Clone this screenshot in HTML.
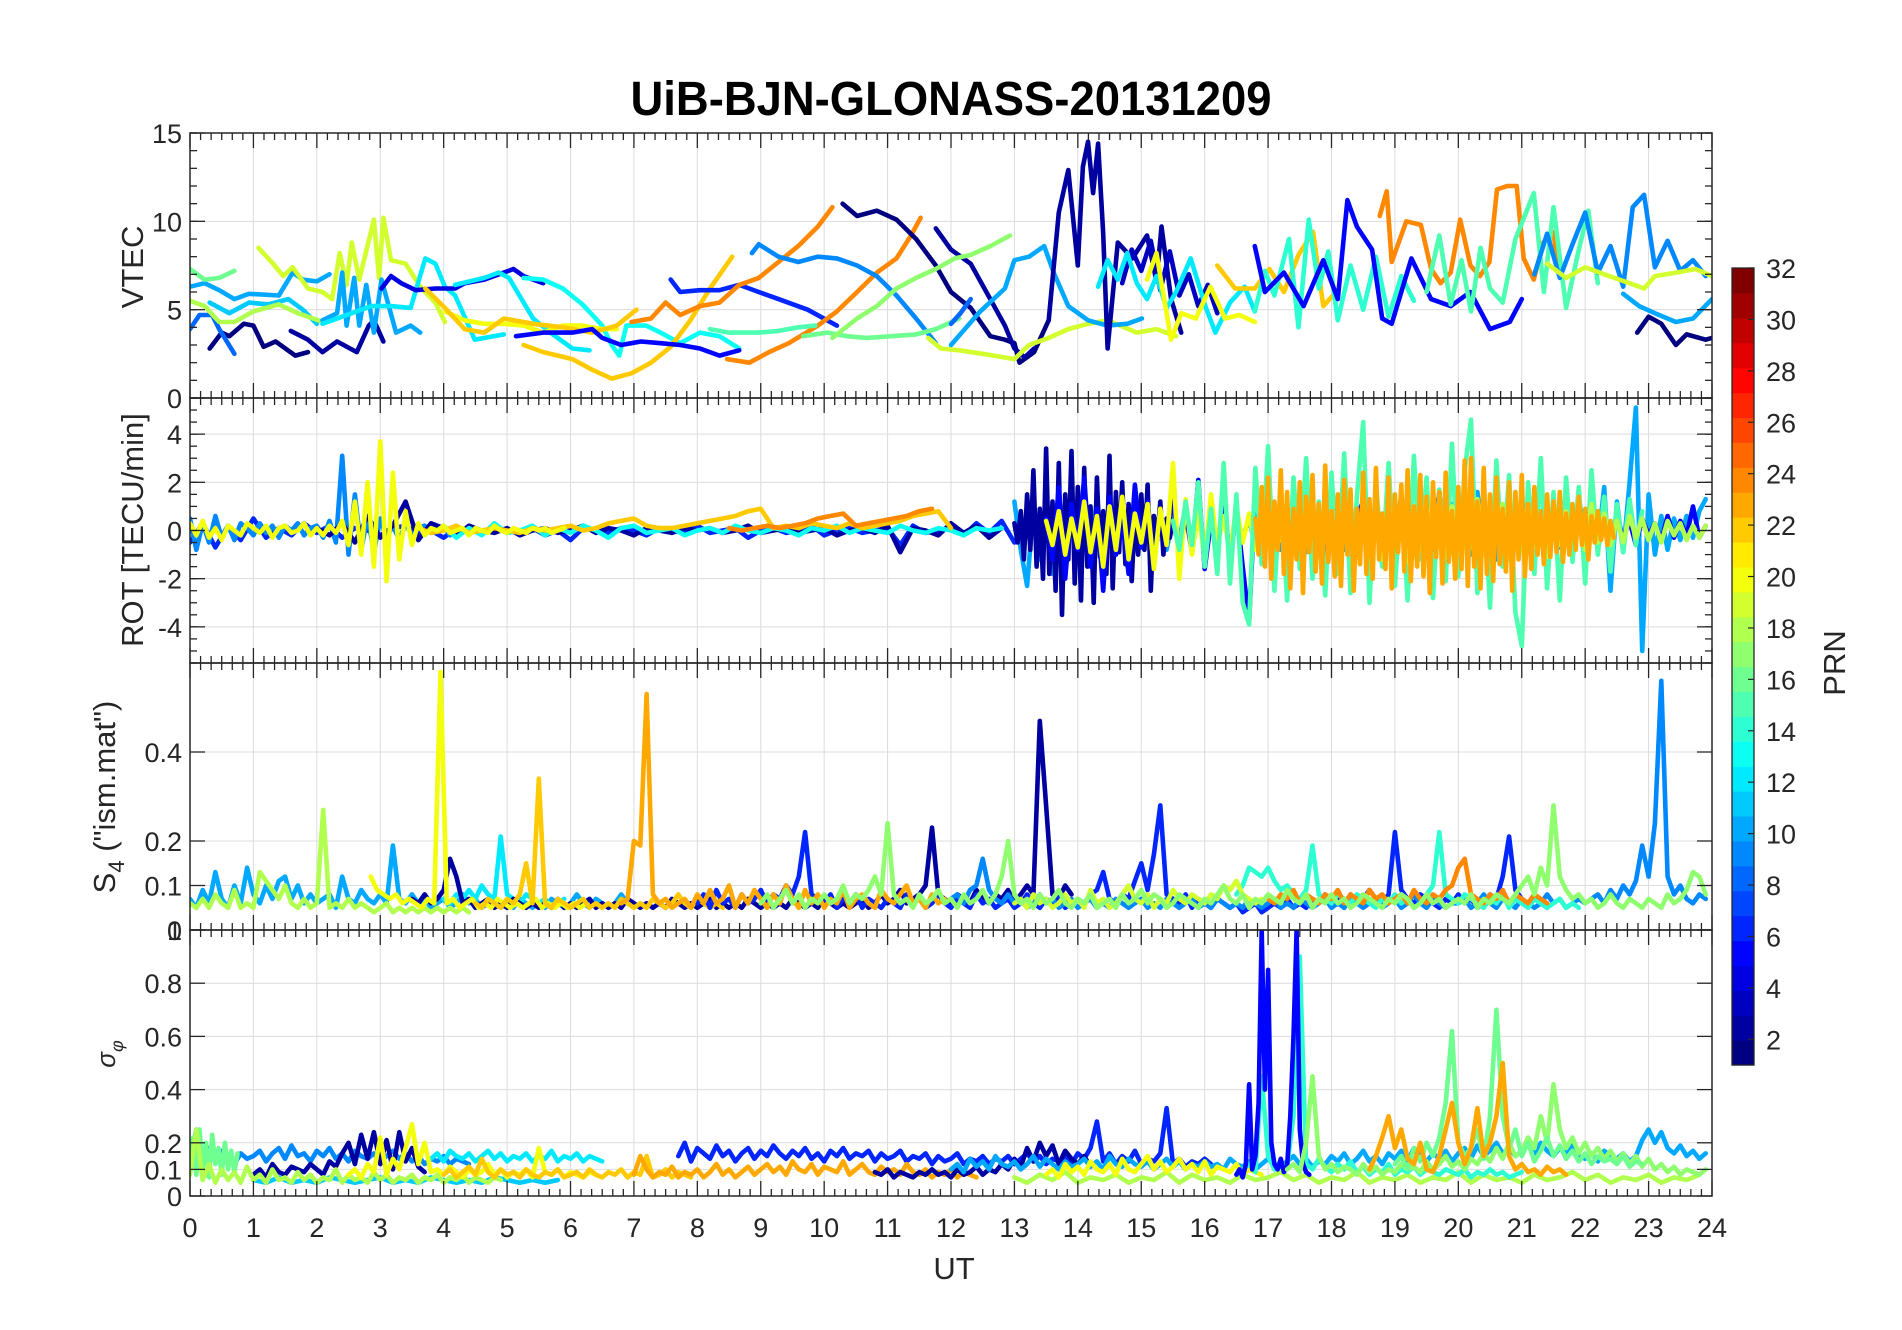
<!DOCTYPE html>
<html><head><meta charset="utf-8"><style>
html,body{margin:0;padding:0;background:#fff;}
svg{display:block;font-family:"Liberation Sans",Arial,sans-serif;}
</style></head><body>
<svg id="fig" width="1902" height="1330" viewBox="0 0 1902 1330" xmlns="http://www.w3.org/2000/svg">
<rect x="0" y="0" width="1902" height="1330" fill="#fff"/>
<text x="951" y="115" text-anchor="middle" font-size="48" font-weight="bold" fill="#000" textLength="641" lengthAdjust="spacingAndGlyphs">UiB-BJN-GLONASS-20131209</text>
<g id="plots"></g>
<text x="954" y="1279" text-anchor="middle" font-size="31" fill="#262626">UT</text>
<text transform="translate(133,267) rotate(-90)" text-anchor="middle" font-size="31" fill="#262626" dy="10">VTEC</text>
<text transform="translate(143,530) rotate(-90)" text-anchor="middle" font-size="31" fill="#262626">ROT [TECU/min]</text>
<text transform="translate(115,797) rotate(-90)" text-anchor="middle" font-size="31" fill="#262626">S<tspan font-size="22" dy="9">4</tspan><tspan dy="-9"> ("ism.mat")</tspan></text>
<text transform="translate(115,1054) rotate(-90)" text-anchor="middle" font-size="26" fill="#262626"><tspan font-style="italic">σ</tspan><tspan font-size="18" dy="8" font-style="italic">φ</tspan></text>
<g id="cbar"></g>
<text transform="translate(1845,663) rotate(-90)" text-anchor="middle" font-size="31" fill="#262626">PRN</text>
</svg>
<script>
// ===== axis layout =====
const XL = 190, XR = 1712, T0 = 0, T1 = 24;
const hourTicks = [0,1,2,3,4,5,6,7,8,9,10,11,12,13,14,15,16,17,18,19,20,21,22,23,24];
const vtecTicks = [0,5,10,15];
const rotTicks = [-4,-2,0,2,4];
const s4Ticks = [0,0.1,0.2,0.4];
const s4TickLabels = ["0","0.1","0.2","0.4"];
const spTicks = [0,0.1,0.2,0.4,0.6,0.8,1];
const spTickLabels = ["0","0.1","0.2","0.4","0.6","0.8","1"];
const prnTicks = [2,4,6,8,10,12,14,16,18,20,22,24,26,28,30,32];

// ===== VTEC tracks: PRN, hours, values =====
const vtecTracks = [
 {prn:1, t:[0.31,0.5,0.62,0.85,1.0,1.16,1.35,1.66,1.86], v:[2.8,3.7,3.5,4.2,4.1,2.9,3.2,2.4,2.6]},
 {prn:2, t:[1.59,1.86,2.09,2.32,2.63,2.82,2.9,3.05], v:[3.8,3.3,2.6,3.2,2.6,4.1,4.4,3.2]},
 {prn:8, t:[0,0.15,0.35,0.46,0.7], v:[3.9,4.7,4.7,3.9,2.5]},
 {prn:10, t:[0,0.23,0.46,0.7,0.93,1.4,1.62,1.78,2.0,2.2], v:[6.3,6.5,6.1,5.6,5.9,5.8,7.1,6.7,6.6,7.0]},
 {prn:11, t:[0.31,0.62,0.93,1.24,1.55,1.78,2.0], v:[5.4,4.8,5.4,5.3,5.6,5.0,4.2]},
 {prn:16, t:[0,0.23,0.46,0.7], v:[7.3,6.7,6.8,7.2]},
 {prn:18, t:[0,0.23,0.46,0.7,1.0,1.4,1.7,2.1], v:[5.5,5.2,4.3,4.3,4.9,5.3,4.8,4.3]},
 {prn:19, t:[1.08,1.31,1.47,1.62,1.86,2.09,2.24,2.36,2.47,2.55,2.67,2.9,2.98,3.05,3.17,3.4,3.63,3.87,4.02], v:[8.5,7.6,6.9,7.4,6.2,6.0,5.6,8.2,6.4,8.8,6.7,10.1,6.8,10.2,7.8,7.6,6.3,5.4,4.3]},
 {prn:10, t:[2.09,2.32,2.4,2.47,2.59,2.67,2.78,2.9,3.02,3.25,3.48,3.63], v:[4.4,4.8,7.1,4.1,6.8,4.1,6.4,3.7,6.7,3.7,4.1,3.7]},
 {prn:12, t:[2.09,2.55,2.86,3.17,3.48,3.71,3.87,4.02,4.18,4.33,4.49,4.95], v:[4.2,4.8,5.2,5.2,5.1,7.9,7.6,6.3,5.8,4.6,3.3,3.6]},
 {prn:4, t:[3.02,3.17,3.33,3.56,3.87,4.18,4.33,4.64,4.95,5.1,5.26,5.57], v:[6.2,6.9,6.5,6.1,6.2,6.2,6.5,6.7,7.1,7.3,6.9,6.5]},
 {prn:13, t:[5.26,5.57,5.88,6.19,6.5,6.65,6.77,6.88,7.19,7.42,7.73,8.04,8.35,8.66], v:[6.8,6.7,6.2,5.3,4.1,3.0,2.4,4.1,4.1,3.7,3.1,3.7,3.5,2.8]},
 {prn:12, t:[4.18,4.64,4.87,5.03,5.41,5.72,6.03,6.3], v:[6.4,6.8,7.1,6.8,4.5,3.6,2.8,2.7]},
 {prn:20, t:[4.02,4.33,4.64,4.95,5.26,5.57,5.88,6.19,6.5,6.73], v:[4.9,4.4,4.2,4.2,4.1,3.7,4.1,4.1,3.9,3.9]},
 {prn:22, t:[3.71,4.02,4.33,4.64,4.95,5.41,5.88,6.34,6.73,7.04], v:[6.2,5.1,3.9,3.7,4.5,4.2,4.0,3.7,4.1,5.0]},
 {prn:22, t:[5.26,5.57,6.03,6.34,6.65,6.96,7.27,7.58,7.89,8.2,8.55], v:[3.0,2.6,2.2,1.6,1.1,1.4,2.0,2.9,4.4,6.2,8.0]},
 {prn:5, t:[5.14,5.57,6.03,6.34,6.5,6.8,7.11,7.42,7.73,8.04,8.35,8.66], v:[3.5,3.7,3.7,3.9,3.4,3.0,3.2,3.1,3.0,2.8,2.4,2.7]},
 {prn:6, t:[7.58,7.73,8.04,8.35,8.66,8.97,9.28,9.74,10.2], v:[6.7,6.0,6.1,6.1,6.4,6.0,5.6,5.0,4.1]},
 {prn:24, t:[6.96,7.27,7.5,7.73,8.04,8.35,8.66,8.97,9.28,9.59,9.9,10.13], v:[4.3,4.5,5.4,4.7,5.2,5.4,6.4,6.8,7.7,8.6,9.7,10.8]},
 {prn:24, t:[8.47,8.82,9.13,9.44,9.9,10.2,10.52,10.83,11.14,11.37,11.52], v:[2.2,2.0,2.6,3.1,4.1,4.9,6.0,7.1,7.9,9.2,10.2]},
 {prn:9, t:[8.86,8.97,9.28,9.59,9.9,10.2,10.52,10.83,11.14,11.45,11.76], v:[8.2,8.7,8.0,7.7,8.0,7.9,7.5,6.9,5.8,4.5,3.1]},
 {prn:15, t:[8.2,8.5,8.97,9.28,9.59,9.86], v:[3.9,3.7,3.7,3.8,4.0,4.1]},
 {prn:16, t:[9.67,10.05,10.36,10.67,11.06,11.45,11.76,12.13], v:[3.5,3.7,3.5,3.4,3.5,3.6,3.9,4.5]},
 {prn:1, t:[10.29,10.52,10.83,11.14,11.45,11.76,12.0,12.31,12.62,12.85,13.0,13.08,13.31,13.54], v:[11.0,10.3,10.6,10.1,9.0,7.5,6.0,5.1,3.5,3.3,3.1,2.0,2.6,4.4]},
 {prn:2, t:[11.76,12.0,12.31,12.62,12.85,13.0,13.16,13.31], v:[9.6,8.4,7.6,5.6,4.1,2.8,2.3,2.8]},
 {prn:17, t:[10.13,10.52,10.83,11.14,11.45,11.76,12.06,12.31,12.62,12.93], v:[3.4,4.5,5.2,6.2,6.8,7.3,7.9,8.1,8.6,9.2]},
 {prn:19, t:[11.64,11.84,12.13,12.5,13.0,13.23,13.54,13.85,14.16,14.47,14.93,15.24,15.55], v:[3.4,2.8,2.7,2.5,2.2,3.0,3.4,3.9,4.2,4.4,3.7,3.9,3.5]},
 {prn:10, t:[12.0,12.46,12.85,13.0,13.23,13.47,13.62,13.85,14.16,14.47,14.78,15.01], v:[3.0,4.9,6.2,7.8,8.0,8.6,7.1,5.2,4.4,4.1,4.2,4.5]},
 {prn:8, t:[12.0,12.15,12.31], v:[4.2,4.8,5.6]},
 {prn:2, t:[13.54,13.7,13.85,14.0,14.08,14.16,14.24,14.32,14.4,14.47,14.63,14.86,15.09,15.24,15.32,15.47,15.63], v:[4.4,10.5,12.9,7.5,13.1,14.5,11.6,14.4,9.3,2.8,8.8,7.9,9.2,6.6,9.7,5.6,3.7]},
 {prn:3, t:[14.7,14.85,15.0,15.15,15.3,15.45,15.6,15.75,15.9,16.05,16.2], v:[6.5,8.4,7.2,8.9,6.1,8.3,5.8,7.0,5.2,6.4,4.8]},
 {prn:12, t:[14.32,14.47,14.63,14.78,14.93,15.09,15.24,15.4,15.55,15.78,16.01,16.17,16.4,16.63,16.79], v:[6.3,7.8,6.7,8.2,6.5,5.6,6.9,5.1,6.0,7.9,5.2,3.7,5.4,6.3,4.9]},
 {prn:20, t:[15.09,15.24,15.32,15.47,15.63,15.86,16.09,16.32,16.55,16.79], v:[6.7,8.2,6.5,3.3,4.8,4.5,6.3,4.5,4.7,4.3]},
 {prn:22, t:[16.2,16.48,16.79,17.02,17.25,17.48,17.71,17.87,18.1], v:[7.5,6.2,6.2,7.3,6.0,8.1,9.4,5.2,6.1]},
 {prn:14, t:[16.79,16.95,17.1,17.33,17.48,17.64,17.8,17.95,18.1,18.3,18.5,18.7,18.9,19.1,19.3], v:[4.9,7.2,5.8,9.0,4.0,10.1,6.2,8.3,4.4,7.5,5.0,8.0,4.6,6.9,5.5]},
 {prn:5, t:[16.79,16.95,17.25,17.56,17.87,18.1,18.25,18.4,18.64,18.8,18.95,19.26,19.57,19.88,20.19,20.5,20.81,21.0], v:[8.6,6.0,7.1,5.2,7.8,5.6,11.2,9.7,8.4,4.5,4.2,7.9,5.6,5.2,6.0,3.9,4.3,5.6]},
 {prn:24, t:[18.76,18.87,18.95,19.18,19.41,19.57,19.72,19.88,20.03,20.19,20.34,20.49,20.61,20.77,20.92,21.03,21.19,21.34,21.5,21.57], v:[10.3,11.7,7.7,10.0,9.8,7.3,6.5,7.1,10.1,7.5,6.9,7.7,11.8,12.0,12.0,7.9,6.7,8.8,9.4,7.3]},
 {prn:15, t:[19.5,19.7,19.88,20.05,20.2,20.35,20.5,20.7,20.9,21.19,21.35,21.5,21.7,21.9,22.05,22.2], v:[6.0,9.2,5.3,7.8,4.9,8.5,6.2,5.4,9.0,11.6,6.0,10.8,5.1,8.4,10.6,6.5]},
 {prn:9, t:[21.2,21.4,21.6,21.8,22.0,22.2,22.4,22.6,22.75,22.93,23.1,23.3,23.5,23.7,23.9], v:[7.0,9.3,6.8,8.7,10.5,7.1,8.6,6.3,10.8,11.5,7.4,8.9,7.2,7.8,6.9]},
 {prn:19, t:[21.4,21.7,22.0,22.3,22.62,22.93,23.1,23.43,23.74,24.0], v:[7.6,6.8,7.4,7.0,6.6,6.2,6.9,7.1,7.3,6.9]},
 {prn:1, t:[22.82,23.0,23.2,23.43,23.6,23.9,24.0], v:[3.7,4.6,4.2,3.0,3.6,3.3,3.4]},
 {prn:10, t:[22.6,22.85,23.1,23.43,23.7,24.0], v:[5.9,5.2,4.8,4.3,4.5,5.6]}
];

// ===== ROT series: PRN, start hour, step hour, values =====
const rotYellowQ = [0.3,-0.2,0.4,-0.3,0.1,-0.4,0.2,0.0,-0.2,0.3, 0.1,-0.1,0.2,-0.3,0.1,0.2,-0.1,0.0,0.3,-0.2, 0.1,-0.2,0.2,-0.1,0.4,-0.6,1.2,-1.0,2.0,-1.5, 3.7,-2.1,2.4,-1.2,0.8,-0.6,0.3,-0.2,0.1,0.0, 0.2,-0.1,0.0,0.1,-0.2,0.1,0.0,-0.1,0.2,0.0, -0.1,0.1,0.0,-0.1,0.1,0.0,0.1,-0.1,0.0,0.1];
const rotSkyQ = [0.5,-0.8,0.3,-0.5,0.6,-0.3,0.2,-0.4,0.3,0.1, -0.2,0.3,-0.1,0.2,-0.3,0.2,0.0,0.3,-0.2,0.1, 0.2,-0.3,0.4,-0.5,3.1,-1.0,1.5,-0.8,0.6,-0.9, 0.5,-0.3,0.2,-0.4,0.3,-0.2,0.1,0.2,-0.1,0.0, 0.2,-0.2,0.1,0.0,-0.1];
const rotNavyQ = [0.1,-0.2,0.3,-0.5,0.6,-0.3,0.2,1.2,-0.4,0.3, 0.1,-0.2,0.2,0.0,-0.1,0.1,-0.2,0.0,0.1,-0.1, 0.0,0.2,-0.1,0.1,0.0,-0.2,0.1,0.0,-0.1,0.1, 0.0,0.1,-0.1,0.0,0.2,-0.1,0.0,0.1,-0.1,0.0, 0.1,-0.2,0.0,0.1,-0.1,0.2,-0.9,0.1,0.0,-0.2, 0.3,-0.1,0.2,-0.3,0.1];
const rotBlueQ = [-0.5,0.3,-0.7,0.2,-0.4,0.5,-0.3,0.1,-0.2,0.3, -0.1,0.2,-0.3,0.1,0.0,-0.2,0.1,0.2,-0.1,0.0, -0.3,0.1,0.0,-0.1,0.2,-0.1,0.0,0.1,-0.2,0.0, -0.4,0.1,0.0,-0.1,0.1,0.0,-0.2,0.1,0.0,-0.1, 0.2,-0.1,0.0,0.1,-0.3,0.0,0.1,-0.1,0.0,0.2, -0.2,0.0,0.1,-0.1,0.0,0.1,-0.6,0.2,-0.1,0.0, 0.1,-0.2,0.3,-0.1,0.4,-0.5];
const rotGoldQ = [0.1,-0.1,0.0,0.2,-0.1,0.0,0.1,0.0,-0.1,0.1, 0.0,0.1,0.2,0.0,0.1,0.3,0.4,0.5,0.2,0.1, 0.1,0.2,0.3,0.4,0.5,0.6,0.8,0.9,0.1,0.2, 0.1,0.3,0.2,0.1,0.3,0.1,0.2,0.3,0.4,0.6,0.7,0.8,0.1];
const rotOrangeQ = [0.1,0.0,0.1,0.2,0.1,0.2,0.3,0.5,0.6,0.7,0.2,0.3,0.4,0.5,0.6,0.8,0.9];
const rotAquaQ = [0.2,-0.3,0.1,-0.2,0.3,-0.1,0.0,0.2,-0.2,0.1, -0.1,0.2,0.0,-0.3,0.1,0.2,-0.1,0.0,0.1,-0.2, 0.0,0.1,-0.1,0.2,0.0,-0.1,0.1,0.0,-0.2,0.1, 0.0,0.2,-0.1,0.1,0.0,-0.1,0.2,0.0,-0.1,0.1, 0.0,-0.2,0.1,0.0,0.1];
const rotNavyS = [0.3,-0.5,0.8,-1.2,1.5,-0.8,2.5,-1.5,0.9,-2.0, 3.4,-1.8,1.2,-2.5,2.8,-3.5,1.5,-1.2,3.3,-2.2, 1.8,-2.9,2.6,-1.5,1.0,-3.0,2.2,-1.1,0.8,-1.8, 3.1,-2.4,1.6,-0.9,2.0,-1.4,1.1,-2.1,0.7,-1.0, 1.5,-0.8,1.9,-2.5,0.6,-0.4,1.2,-1.0,0.5,-0.3, 0.4,-0.2];
const rotBlueS = [0.5,-1.2,1.8,-2.0,1.1,-0.8,2.2,-1.5,0.9,-2.5, 1.4,-1.0,0.6,-1.8,1.9,-0.7,1.2,-1.3,0.8,-0.6, 1.5,-1.1,0.7,-0.9,2.1,-1.6,0.4,-0.8,1.3,-1.2, 0.9,-1.5,-3.8,1.8,-1.0,2.2,-1.4,0.8,-1.9,1.2, -0.6,1.0,-1.3,0.7,-0.9,1.4,-0.5,0.8,-1.1,0.6, 1.2,-0.8,0.5,-1.4,0.9,-0.6,1.1,-1.0,0.4,-0.7, 0.8,-0.5,1.6,-1.2,0.6,-0.9,0.7,-0.4,1.0,-0.8, 0.5,-0.6,0.9,-1.1,0.4,-0.3,0.8,-0.7,0.5,-0.5, 0.6,-0.4,0.7,-0.9,1.4,-0.6,0.5,-0.4,0.3,-0.5, 0.6,-0.3,0.4,-0.6,0.5,-0.2,0.3,-0.4,0.6,-0.3, 0.4,-0.2,1.0,-0.3,0.2];
const rotOrangeS = [0.5,-1.0,1.8,-1.5,2.2,-2.0,1.2,-0.8,2.5,-1.8, 1.6,-2.4,0.9,-1.2,2.0,-2.6,1.4,-0.9,2.3,-1.7, 1.1,-2.2,2.7,-1.3,0.8,-1.9,1.5,-2.3,2.1,-1.0, 1.7,-2.5,0.9,-1.4,2.4,-1.8,1.3,-2.0,2.6,-1.2, 0.7,-1.6,2.2,-2.4,1.5,-0.9,1.9,-1.7,2.5,-2.1, 1.0,-1.5,2.3,-1.9,1.4,-2.6,2.0,-1.1,1.6,-2.2, 2.4,-1.3,0.8,-2.0,1.8,-1.6,2.9,-2.3,3.0,-1.5, 1.2,-2.4,2.6,-1.8,1.5,-2.1,2.2,-1.4,0.9,-1.7, 2.0,-2.5,1.6,-1.2,2.3,-1.9,1.1,-1.6,1.8,-1.0, 0.8,-1.4,1.5,-1.1,1.2,-0.9,1.6,-1.3,0.7,-1.0, 1.1,-0.8,1.4,-0.6,0.9,-1.2,0.6,-0.5,0.8,-0.4, 0.5,-0.6,0.4,-0.3];
const rotSpringS = [0.4,-0.8,1.2,-0.6,2.0,-1.5,0.9,-1.8,2.8,-2.2, 1.5,-3.0,-3.9,2.6,-1.4,3.5,-2.5,1.8,-2.9,2.2, -1.6,3.0,-2.0,1.2,-2.7,2.4,-1.8,3.2,-2.6,1.4, 4.5,-3.0,2.1,-1.5,2.8,-2.3,1.6,-2.9,3.1,-1.2, 2.2,-2.8,1.7,-2.1,3.6,-1.9,2.5,4.6,-2.6,1.8, -3.2,2.9,-1.5,2.3,-3.4,-4.8,2.0,-1.8,3.0,-2.4, 1.6,-2.9,2.2,-1.3,1.8,-2.2,2.5,-1.0,1.4,-1.7, 1.1,-0.9,1.3,-0.6,0.8];
const rotSkyS = [1.2,-0.8,-2.3,0.9,-1.2,0.6,-1.8,1.0,-0.5,0.8, -1.4,0.7,-0.9,1.3,-0.6,0.4,-1.0,0.8,-0.7,1.1, -0.5,0.9,-1.3,0.6,-0.8,0.5,-0.4,1.0,-0.9,0.7, -0.6,0.4,-0.5,0.8,-1.1,0.6,-0.3,0.5,-0.7,0.9, -0.4,0.6,-0.8,0.5,-0.6,1.2,-0.9,0.4,-0.5,0.7, -0.3,0.6,-0.8,1.0,-0.5,0.4,-0.7,0.9,-1.2,0.8, -0.6,1.5,-1.0,0.7,-0.9,1.3,-0.8,0.6,-1.4,1.1, -0.7,0.9,-1.0,1.6,-0.8,0.6,-1.2,0.9,-0.5,0.7, -0.9,1.2,-0.6,0.8,-1.1,0.5,-0.7,1.0,-0.8,0.6, -1.3,0.9,-0.6,1.8,-2.5,1.2,-0.9,2.0,5.1,-5.0, 1.5,-1.0,0.6,-0.8,0.5,-0.4,0.6,-0.3,0.8,1.3];
const rotYellowS = [0.4,-0.6,0.8,-1.0,0.5,-0.7,1.2,-0.9,0.6,-1.5, 1.0,-0.8,1.4,-1.2,0.7,-0.5,1.1,-1.6,0.9,-0.6, 2.8,-2.0,1.3,-1.0,0.8,-1.2,1.5,-0.7,0.6,-0.9, 1.0,-0.5,0.7,-0.8,0.4,-0.3,0.6,-0.4,0.3,-0.2];
const rotYgS = [0.8,-1.0,0.6,-1.2,1.1,-0.7,0.9,-1.3,0.5,-0.8, 1.2,-0.6,0.7,-1.1,1.0,-0.9,0.4,-0.7,1.3,-1.0, 0.8,-0.5,1.1,-1.2,0.6,-0.9,1.0,-0.7,0.5,-1.1, 0.9,-0.6,0.8,-0.4,0.6,-0.8,1.1,-0.5,0.7,-0.6, 0.4,-0.5,0.6,-0.3,0.5,-0.4,0.3,-0.5,0.4,-0.2, 0.3,-0.4,0.2,-0.3,0.2];
const rotSeries = [
 {prn:6,t0:0,dt:0.2,v:rotBlueQ},{prn:9,t0:0,dt:0.1,v:rotSkyQ},{prn:2,t0:2.0,dt:0.2,v:rotNavyQ},
 {prn:13,t0:4.0,dt:0.2,v:rotAquaQ},{prn:22,t0:3.6,dt:0.2,v:rotGoldQ},{prn:24,t0:8.5,dt:0.2,v:rotOrangeQ},
 {prn:20,t0:0,dt:0.1,v:rotYellowQ},
 {prn:10,t0:13.0,dt:0.1,v:rotSkyS},{prn:2,t0:13.0,dt:0.05,v:rotNavyS},{prn:5,t0:13.5,dt:0.1,v:rotBlueS},
 {prn:20,t0:13.5,dt:0.1,v:rotYellowS},{prn:15,t0:15.5,dt:0.1,v:rotSpringS},{prn:18,t0:18.5,dt:0.1,v:rotYgS},
 {prn:23,t0:16.8,dt:0.05,v:rotOrangeS}
];

// ===== S4 series =====
const s4Sky = [0.07,0.05,0.09,0.06,0.13,0.07,0.05,0.1,0.06,0.14, 0.08,0.06,0.1,0.07,0.11,0.12,0.07,0.1,0.06,0.08, 0.06,0.07,0.08,0.05,0.12,0.07,0.06,0.09,0.07,0.06, 0.08,0.06,0.19,0.07,0.06,0.08,0.06,0.07,0.05,0.06, 0.07,0.05,0.06,0.08,0.06,0.07,0.05,0.06,0.07,0.05, 0.06,0.05,0.07,0.06,0.05,0.06,0.05,0.07,0.06,0.05, 0.06,0.08,0.06,0.05,0.07,0.06,0.05,0.06,0.08,0.06];
const s4Yg = [0.06,0.05,0.07,0.05,0.08,0.06,0.05,0.09,0.05,0.06, 0.05,0.13,0.11,0.09,0.07,0.1,0.06,0.05,0.07,0.05, 0.06,0.27,0.05,0.06,0.05,0.07,0.05,0.06,0.05,0.04, 0.05,0.06,0.04,0.05,0.04,0.05,0.04,0.05,0.04,0.05, 0.04,0.05,0.04,0.05,0.04];
const s4Yellow = [0.12,0.09,0.08,0.07,0.08,0.06,0.07,0.06,0.05,0.07, 0.06,0.58,0.06,0.07,0.05,0.06,0.07,0.05,0.06,0.05, 0.07,0.06,0.05,0.06,0.05,0.06,0.07,0.05,0.06,0.05, 0.06,0.05,0.06,0.05,0.06];
const s4Gold = [0.06,0.05,0.07,0.06,0.05,0.07,0.06,0.08,0.15,0.06, 0.34,0.06,0.05,0.07,0.06,0.05,0.06,0.07,0.05,0.06, 0.05,0.06,0.05,0.07,0.06,0.05,0.06,0.05,0.07,0.06, 0.05,0.06,0.08,0.06,0.05,0.07,0.06,0.05,0.06,0.05];
const s4Orange = [0.06,0.07,0.2,0.19,0.53,0.08,0.06,0.07,0.05,0.06, 0.07,0.05,0.08,0.06,0.09,0.06,0.07,0.1,0.05,0.08, 0.06,0.09,0.07,0.05,0.08,0.06,0.1,0.07,0.05,0.09, 0.06,0.08,0.05,0.07,0.06,0.09,0.05,0.07,0.08,0.06, 0.05,0.09,0.07,0.06,0.08,0.1,0.06,0.07,0.05,0.08, 0.06,0.07];
const s4Navy = [0.07,0.06,0.08,0.06,0.07,0.09,0.16,0.12,0.06,0.07, 0.05,0.06,0.07,0.05,0.06,0.05,0.07,0.06,0.05,0.06, 0.05,0.06,0.05,0.07,0.05,0.06,0.05,0.06,0.07,0.05, 0.06,0.05,0.06,0.05,0.07,0.06,0.05,0.06,0.05,0.06, 0.05,0.07,0.06,0.05,0.06,0.05,0.06,0.07,0.05,0.06, 0.05,0.06,0.05,0.07,0.06,0.05,0.06,0.05,0.06,0.05, 0.07,0.06,0.05,0.06,0.05,0.07,0.06,0.05,0.06,0.05, 0.06,0.07,0.05,0.06,0.08,0.06,0.07,0.09,0.06,0.07, 0.08,0.1,0.23,0.08,0.07,0.06,0.08,0.07,0.06,0.09, 0.07,0.06,0.08,0.07,0.09,0.06,0.08,0.1,0.08,0.47, 0.28,0.08,0.07,0.1,0.08];
const s4Blue = [0.06,0.08,0.05,0.09,0.06,0.07,0.05,0.08,0.06,0.07, 0.09,0.06,0.08,0.07,0.1,0.08,0.12,0.22,0.08,0.07, 0.06,0.08,0.05,0.07,0.06,0.08,0.05,0.07,0.06,0.05, 0.07,0.06,0.05,0.08,0.06,0.07,0.05,0.06,0.08,0.06, 0.05,0.07,0.06,0.05,0.08,0.06,0.07,0.05,0.06,0.07, 0.05,0.06,0.08,0.06,0.05,0.07,0.06,0.08,0.05,0.06, 0.07,0.06,0.08,0.09,0.13,0.07,0.06,0.08,0.07,0.11, 0.15,0.09,0.17,0.28,0.08,0.07,0.06,0.08,0.05,0.07, 0.06,0.05,0.07,0.06,0.05,0.06,0.04,0.05,0.06,0.04, 0.05,0.06,0.05,0.07,0.05,0.06,0.05,0.07,0.06,0.08, 0.06,0.07,0.05,0.08,0.06,0.07,0.09,0.07,0.06,0.08, 0.22,0.09,0.07,0.06,0.08,0.07,0.06,0.05,0.07,0.06, 0.08,0.06,0.07,0.05,0.06,0.08,0.07,0.12,0.21,0.09, 0.07,0.06,0.08,0.06,0.05];
const s4Lg = [0.06,0.08,0.05,0.07,0.09,0.06,0.08,0.05,0.07,0.06, 0.08,0.06,0.07,0.1,0.06,0.08,0.07,0.09,0.12,0.08, 0.24,0.08,0.06,0.07,0.05,0.08,0.06,0.07,0.09,0.06, 0.07,0.05,0.08,0.06,0.07,0.09,0.06,0.08,0.12,0.2, 0.08,0.06,0.07,0.05,0.08,0.06,0.07,0.09,0.06,0.05, 0.07,0.06,0.08,0.05,0.06,0.07,0.05,0.08,0.06,0.07, 0.09,0.06,0.08,0.07,0.05,0.06,0.08,0.07,0.06,0.05, 0.07,0.06,0.08,0.1,0.07,0.06,0.08,0.05,0.07,0.06, 0.08,0.07,0.06,0.09,0.07,0.06,0.08,0.05,0.07,0.06, 0.08,0.06,0.07,0.05,0.06,0.08,0.07,0.06,0.05,0.07, 0.06,0.08,0.07,0.05,0.06,0.08,0.06,0.07,0.05,0.06, 0.07,0.06,0.08,0.05,0.07,0.06,0.08,0.07,0.06,0.08, 0.1,0.12,0.08,0.14,0.1,0.28,0.12,0.09,0.07,0.08, 0.06,0.07,0.05,0.06,0.08,0.06,0.05,0.07,0.06,0.05, 0.07,0.06,0.05,0.08,0.06,0.07,0.09,0.13,0.12,0.08];
const s4Aqua = [0.08,0.1,0.14,0.13,0.12,0.14,0.11,0.09,0.1,0.08, 0.07,0.09,0.19,0.08,0.07,0.06,0.08,0.07,0.06,0.08, 0.07,0.06,0.05,0.07,0.06,0.08,0.06,0.07,0.05,0.06, 0.08,0.1,0.22,0.08,0.07,0.06,0.08,0.07,0.06,0.05, 0.07,0.06,0.08,0.05,0.07,0.06,0.05,0.07,0.06,0.05, 0.06,0.07,0.05,0.06,0.05];
const s4Sky2 = [0.07,0.08,0.06,0.09,0.1,0.16,0.09,0.07,0.06,0.08, 0.06,0.07,0.05,0.06,0.08,0.06,0.07,0.05,0.06,0.07, 0.05,0.06,0.07,0.05,0.06,0.05,0.07,0.06,0.05,0.06, 0.07,0.05,0.06,0.05,0.07,0.06,0.05,0.06,0.07,0.05, 0.06,0.05,0.07,0.06,0.05,0.06,0.05,0.07,0.06,0.05, 0.06,0.07,0.05,0.06,0.05,0.07,0.06,0.05,0.06,0.07, 0.05,0.06,0.05,0.07,0.06,0.05,0.06,0.07,0.05,0.06, 0.07,0.05,0.06,0.08,0.06,0.05,0.07,0.06,0.05,0.06, 0.06,0.07,0.05,0.06,0.08,0.06,0.05,0.07,0.06,0.05, 0.07,0.06,0.05,0.06,0.08,0.06,0.07,0.05,0.06,0.07, 0.06,0.07,0.08,0.06,0.09,0.07,0.1,0.08,0.11,0.19, 0.12,0.24,0.56,0.12,0.08,0.1,0.07,0.06,0.08,0.07];
const s4Cyan = [0.07,0.06,0.08,0.07,0.09,0.07,0.1,0.08,0.07,0.21,0.08,0.07,0.06,0.08,0.07,0.06,0.07,0.05,0.06,0.07];
const s4Orange2 = [0.07,0.06,0.08,0.07,0.09,0.06,0.08,0.07,0.06,0.08, 0.07,0.09,0.06,0.08,0.07,0.06,0.09,0.07,0.08,0.06, 0.07,0.08,0.06,0.09,0.07,0.06,0.08,0.07,0.09,0.1, 0.14,0.16,0.08,0.07,0.06,0.08,0.07,0.09,0.06,0.08, 0.07,0.06,0.08,0.07,0.06];
const s4Yg2 = [0.06,0.07,0.05,0.08,0.06,0.07,0.05,0.06,0.08,0.06, 0.07,0.05,0.09,0.06,0.07,0.05,0.06,0.08,0.1,0.07, 0.06,0.08,0.05,0.07,0.06,0.09,0.07,0.06,0.08,0.07, 0.06,0.08,0.07,0.1,0.09,0.11,0.08,0.07,0.06,0.07];
const s4Series = [
 {prn:10,t0:0,dt:0.1,v:s4Sky},{prn:18,t0:0,dt:0.1,v:s4Yg},{prn:12,t0:4.0,dt:0.1,v:s4Cyan},
 {prn:2,t0:3.5,dt:0.1,v:s4Navy},{prn:20,t0:2.85,dt:0.1,v:s4Yellow},{prn:22,t0:4.5,dt:0.1,v:s4Gold},
 {prn:6,t0:8.0,dt:0.1,v:s4Blue},{prn:9,t0:12.0,dt:0.1,v:s4Sky2},{prn:14,t0:16.5,dt:0.1,v:s4Aqua},
 {prn:24,t0:17.0,dt:0.1,v:s4Orange2},{prn:23,t0:6.8,dt:0.1,v:s4Orange},{prn:19,t0:13.0,dt:0.1,v:s4Yg2},
 {prn:17,t0:9.0,dt:0.1,v:s4Lg}
];

// ===== sigma-phi series =====
const spSpring = [0.15,0.22,0.08,0.25,0.1,0.2,0.07,0.23,0.12,0.18,0.08,0.2,0.1,0.17,0.09,0.16];
const spSky = [0.12,0.25,0.14,0.18,0.13,0.17,0.15,0.12,0.16,0.14, 0.15,0.17,0.13,0.16,0.18,0.14,0.19,0.15,0.16,0.13, 0.17,0.15,0.18,0.14,0.16,0.13,0.17,0.15,0.14,0.16, 0.13,0.15,0.17,0.14,0.16,0.13,0.15,0.12,0.14,0.13, 0.15,0.12,0.14,0.13,0.12];
const spNavy = [0.08,0.1,0.07,0.12,0.09,0.08,0.11,0.1,0.09,0.12, 0.1,0.08,0.13,0.11,0.16,0.2,0.12,0.23,0.14,0.24, 0.12,0.21,0.1,0.24,0.13,0.18,0.11,0.09];
const spYg = [0.08,0.25,0.06,0.12,0.05,0.1,0.06,0.09,0.05,0.11, 0.06,0.08,0.05,0.1,0.06,0.07,0.05,0.09,0.06,0.08, 0.05,0.07,0.06,0.1,0.05,0.08,0.06,0.07,0.05,0.09, 0.06,0.08,0.05,0.07,0.06,0.08,0.05,0.07,0.06,0.08, 0.05,0.07,0.06,0.08,0.05,0.07,0.06,0.05,0.07,0.06];
const spYellow = [0.08,0.1,0.07,0.12,0.09,0.22,0.08,0.14,0.1,0.18, 0.27,0.12,0.2,0.09,0.1,0.08,0.11,0.09,0.07,0.1, 0.08,0.09,0.12,0.08,0.1,0.07,0.09,0.08,0.1,0.07, 0.18,0.09,0.08,0.1,0.07,0.09,0.08,0.07,0.09,0.08];
const spCyan = [0.14,0.16,0.13,0.17,0.15,0.14,0.16,0.13,0.15,0.17, 0.14,0.16,0.13,0.15,0.14,0.16,0.13,0.15,0.14,0.17, 0.13,0.15,0.14,0.16,0.13,0.15,0.14,0.13];
const spLightCyan = [0.06,0.05,0.07,0.05,0.06,0.05,0.07,0.06,0.05,0.06,0.07,0.05,0.06,0.05,0.07,0.06,0.05,0.06,0.05,0.07,0.06,0.05,0.06,0.05,0.06];
const spGold = [0.08,0.1,0.07,0.09,0.11,0.08,0.14,0.09,0.07,0.1, 0.08,0.09,0.07,0.1,0.08,0.07,0.09,0.08,0.1,0.07, 0.08,0.09,0.07,0.1,0.08,0.07,0.09,0.08,0.1,0.07, 0.09,0.08,0.15,0.07,0.08,0.1,0.07,0.09,0.08,0.07];
const spOrange = [0.08,0.15,0.1,0.07,0.09,0.08,0.11,0.07,0.09,0.08, 0.1,0.07,0.09,0.12,0.08,0.1,0.07,0.09,0.11,0.08, 0.1,0.12,0.09,0.11,0.08,0.13,0.1,0.09,0.12,0.08, 0.11,0.1,0.09,0.13,0.08,0.1,0.12,0.09,0.08,0.11, 0.09,0.1,0.08,0.12,0.09,0.08,0.1,0.07,0.09,0.08, 0.1,0.07,0.09,0.08,0.07];
const spBlue = [0.15,0.2,0.13,0.18,0.16,0.14,0.19,0.15,0.17,0.13, 0.16,0.18,0.14,0.17,0.15,0.19,0.16,0.14,0.17,0.15, 0.18,0.14,0.16,0.13,0.17,0.15,0.18,0.14,0.16,0.15, 0.17,0.13,0.16,0.14,0.15,0.17,0.13,0.15,0.14,0.16, 0.12,0.15,0.13,0.14,0.16,0.12,0.14,0.13,0.15,0.12, 0.14,0.13,0.15,0.12,0.14,0.16,0.13,0.15,0.12,0.14, 0.13,0.15,0.12,0.16,0.14,0.18,0.28,0.13,0.16,0.12, 0.15,0.13,0.17,0.12,0.14,0.13,0.16,0.33,0.12,0.14, 0.11,0.13,0.12,0.14,0.12];
const spNavy2 = [0.09,0.08,0.1,0.07,0.09,0.08,0.07,0.09,0.08,0.1, 0.08,0.09,0.07,0.1,0.08,0.09,0.11,0.08,0.1,0.09, 0.12,0.1,0.14,0.11,0.18,0.13,0.2,0.15,0.19,0.12, 0.17,0.14,0.12,0.15,0.11];
const spSky2 = [0.1,0.12,0.09,0.14,0.11,0.13,0.1,0.15,0.12,0.11, 0.13,0.1,0.12,0.15,0.11,0.14,0.12,0.1,0.13,0.11, 0.12,0.14,0.11,0.13,0.1,0.15,0.12,0.11,0.14,0.12, 0.11,0.13,0.1,0.12,0.14,0.11,0.13,0.1,0.12,0.11, 0.13,0.11,0.12,0.1,0.14,0.12,0.11,0.13,0.1,0.12, 0.14,0.12,0.11,0.13,0.15,0.12,0.14,0.11,0.13,0.12, 0.15,0.13,0.16,0.12,0.14,0.17,0.13,0.15,0.12,0.16, 0.14,0.17,0.13,0.18,0.15,0.13,0.16,0.14,0.17,0.13, 0.16,0.18,0.14,0.19,0.15,0.17,0.2,0.16,0.18,0.15, 0.17,0.19,0.16,0.2,0.17,0.15,0.18,0.16,0.19,0.15, 0.14,0.16,0.13,0.17,0.15,0.14,0.16,0.13,0.15,0.21, 0.25,0.2,0.24,0.18,0.16,0.19,0.15,0.17,0.14,0.16];
const spBlue5 = [0.08,0.1,0.07,0.12,0.42,0.1,0.15,0.35,1.0,0.4,0.85,0.2,0.12,0.1,0.14,0.09,0.11,0.3,0.6,1.0,0.25,0.12,0.09,0.08];
const spAqua = [0.1,0.12,0.09,0.45,0.15,0.1,0.12,0.11,0.3,0.9, 0.12,0.1,0.14,0.11,0.09,0.12,0.1,0.13,0.09,0.11, 0.08,0.1,0.09,0.12,0.08,0.1,0.09,0.11,0.08,0.1, 0.09,0.08,0.1,0.09,0.08,0.1,0.07,0.09,0.08,0.1, 0.08,0.09,0.07,0.08,0.09];
const spSpring2 = [0.12,0.15,0.1,0.18,0.13,0.2,0.15,0.22,0.35,0.62, 0.2,0.15,0.18,0.25,0.14,0.3,0.7,0.3,0.18,0.25, 0.15,0.2,0.13,0.17,0.22,0.15,0.19,0.14,0.17,0.13, 0.16,0.12,0.15,0.13,0.14,0.12,0.15,0.11,0.13,0.12];
const spOrange2 = [0.1,0.15,0.22,0.3,0.18,0.25,0.14,0.12,0.2,0.1, 0.09,0.15,0.25,0.35,0.2,0.12,0.18,0.33,0.15,0.2, 0.3,0.5,0.15,0.1,0.12,0.09,0.1,0.08,0.11,0.09, 0.1,0.08];
const spLg = [0.1,0.12,0.09,0.2,0.45,0.15,0.1,0.12,0.09,0.11, 0.1,0.08,0.12,0.09,0.11,0.08,0.1,0.09,0.12,0.1, 0.11,0.09,0.13,0.1,0.12,0.15,0.11,0.13,0.1,0.14, 0.12,0.16,0.13,0.18,0.14,0.2,0.15,0.17,0.22,0.18, 0.3,0.2,0.42,0.25,0.18,0.22,0.16,0.2,0.15,0.18, 0.14,0.17,0.13,0.16,0.12,0.15,0.11,0.14,0.1,0.12, 0.09,0.11,0.08,0.1,0.09,0.08,0.1];
const spYg2 = [0.07,0.05,0.08,0.06,0.09,0.05,0.07,0.06,0.08,0.05, 0.07,0.06,0.09,0.05,0.08,0.06,0.07,0.05,0.08,0.06, 0.07,0.09,0.06,0.08,0.05,0.07,0.06,0.09,0.05,0.07, 0.06,0.08,0.05,0.07,0.06,0.09,0.05,0.08,0.06,0.07, 0.05,0.08,0.06,0.07,0.09,0.06,0.08,0.05,0.07,0.06, 0.08,0.05,0.07,0.06,0.08];
const spYellow2 = [0.08,0.1,0.07,0.12,0.09,0.11,0.08,0.13,0.1,0.09, 0.12,0.08,0.14,0.1,0.09,0.12,0.15,0.1,0.13,0.09, 0.11,0.14,0.1,0.12,0.09,0.13,0.08,0.11,0.1,0.09, 0.12,0.08,0.1,0.09,0.08];
const spSeries = [
 {prn:9,t0:0,dt:0.1,v:spSky},{prn:11,t0:1.0,dt:0.2,v:spLightCyan},{prn:2,t0:1.0,dt:0.1,v:spNavy},
 {prn:16,t0:0,dt:0.05,v:spSpring},{prn:18,t0:0,dt:0.1,v:spYg},{prn:12,t0:3.8,dt:0.1,v:spCyan},
 {prn:20,t0:2.5,dt:0.1,v:spYellow},{prn:22,t0:4.0,dt:0.1,v:spGold},{prn:6,t0:7.7,dt:0.1,v:spBlue},
 {prn:23,t0:7.0,dt:0.1,v:spOrange},{prn:2,t0:10.8,dt:0.1,v:spNavy2},{prn:10,t0:12.0,dt:0.1,v:spSky2},
 {prn:18,t0:13.0,dt:0.2,v:spYg2},{prn:20,t0:13.5,dt:0.1,v:spYellow2},{prn:14,t0:16.6,dt:0.1,v:spAqua},
 {prn:5,t0:16.5,dt:0.05,v:spBlue5},{prn:17,t0:17.3,dt:0.1,v:spLg},{prn:16,t0:19.0,dt:0.1,v:spSpring2},
 {prn:23,t0:18.6,dt:0.1,v:spOrange2}
];

// ===== drawing =====
const NS = "http://www.w3.org/2000/svg";
function jet(v){
  const c = x => Math.max(0, Math.min(1, x));
  const r = c(1.5 - Math.abs(4*v - 3)), g = c(1.5 - Math.abs(4*v - 2)), b = c(1.5 - Math.abs(4*v - 1));
  return "rgb(" + Math.round(r*255) + "," + Math.round(g*255) + "," + Math.round(b*255) + ")";
}
function prnColor(p){ return jet(Math.round(p - 1) / 31); }
function xOf(t){ return XL + (t - T0) / (T1 - T0) * (XR - XL); }
function mk(tag, attrs, parent){
  const e = document.createElementNS(NS, tag);
  for (const k in attrs) e.setAttribute(k, attrs[k]);
  parent.appendChild(e);
  return e;
}
const panels = [
  {name:"vtec", top:133, bot:398, min:0, max:15, ticks:vtecTicks, labels:vtecTicks.map(String), minorStep:1},
  {name:"rot", top:398, bot:663, min:-5.5, max:5.5, ticks:rotTicks, labels:rotTicks.map(String), minorStep:0.5},
  {name:"s4", top:663, bot:930, min:0, max:0.6, ticks:s4Ticks, labels:s4TickLabels, minorStep:0},
  {name:"sigma-phi", top:930, bot:1196, min:0, max:1, ticks:spTicks, labels:spTickLabels, minorStep:0}
];
const root = document.getElementById("plots");
panels.forEach((P, pi) => {
  const yOf = v => P.bot - (v - P.min) / (P.max - P.min) * (P.bot - P.top);
  const g = mk("g", {}, root);
  
  
  const cp = mk("clipPath", {id:"clip" + pi}, g);
  mk("rect", {x:XL, y:P.top, width:XR - XL, height:P.bot - P.top}, cp);
  const grid = mk("g", {stroke:"#dcdcdc", "stroke-width":1}, g);
  
  
  hourTicks.forEach(h => { const x = xOf(h); mk("line", {x1:x, x2:x, y1:P.top, y2:P.bot}, grid); });
  P.ticks.forEach(v => { const y = yOf(v); mk("line", {x1:XL, x2:XR, y1:y, y2:y}, grid); });
  const dg = mk("g", {"clip-path":"url(#clip" + pi + ")", fill:"none", "stroke-width":4.6, "stroke-linejoin":"round", "stroke-linecap":"round"}, g);
  
  
  let list;
  if (pi === 0) list = vtecTracks.map(s => ({prn:s.prn, pts:s.t.map((t, i) => [t, s.v[i]])}));
  else {
    const src = pi === 1 ? rotSeries : pi === 2 ? s4Series : spSeries;
    list = src.map(s => ({prn:s.prn, pts:s.v.map((v, i) => [s.t0 + i*s.dt, v])}));
  }
  list.forEach(s => {
    const d = s.pts.map((p, i) => (i ? "L" : "M") + xOf(p[0]).toFixed(1) + "," + yOf(p[1]).toFixed(1)).join("");
    const path = mk("path", {d:d, stroke:prnColor(s.prn)}, dg);
    
    
  });
  const tg = mk("g", {stroke:"#262626", "stroke-width":1.3}, g);
  
  
  for (let k = 0; k <= 144; k++) {
    const x = xOf(k / 6); const L = (k % 6 === 0) ? 15 : 7;
    mk("line", {x1:x, x2:x, y1:P.top, y2:P.top + L}, tg);
    mk("line", {x1:x, x2:x, y1:P.bot, y2:P.bot - L}, tg);
  }
  P.ticks.forEach(v => { const y = yOf(v);
    mk("line", {x1:XL, x2:XL + 15, y1:y, y2:y}, tg); mk("line", {x1:XR, x2:XR - 15, y1:y, y2:y}, tg); });
  if (P.minorStep) {
    for (let v = P.min; v <= P.max + 1e-9; v += P.minorStep) {
      const y = yOf(v);
      mk("line", {x1:XL, x2:XL + 7, y1:y, y2:y}, tg); mk("line", {x1:XR, x2:XR - 7, y1:y, y2:y}, tg);
    }
  }
  const box = mk("rect", {x:XL, y:P.top, width:XR - XL, height:P.bot - P.top, fill:"none", stroke:"#262626", "stroke-width":1.5}, g);
  
  
  P.ticks.forEach((v, i) => {
    const t = mk("text", {x:182, y:yOf(v) + 10, "text-anchor":"end", "font-size":27, fill:"#262626"}, g);
    t.textContent = P.labels[i];
    
    
  });
});
hourTicks.forEach(h => {
  const t = mk("text", {x:xOf(h), y:1237, "text-anchor":"middle", "font-size":27, fill:"#262626"}, root);
  t.textContent = String(h);
  
  
});
const cb = document.getElementById("cbar");
const CBX = 1732, CBW = 22, CBT = 268, CBB = 1065, PMIN = 1, PMAX = 32;
const cbY = p => CBB - (p - PMIN) / (PMAX - PMIN) * (CBB - CBT);
for (let i = 0; i < 32; i++) {
  const h = (CBB - CBT) / 32;
  const r = mk("rect", {x:CBX, y:CBB - (i + 1)*h, width:CBW, height:h + 0.6, fill:jet(i / 31)}, cb);
  
  
}
const cbBox = mk("rect", {x:CBX, y:CBT, width:CBW, height:CBB - CBT, fill:"none", stroke:"#262626", "stroke-width":1.3}, cb);


prnTicks.forEach(p => {
  const y = cbY(p);
  mk("line", {x1:CBX + CBW, x2:CBX + CBW - 6, y1:y, y2:y, stroke:"#262626", "stroke-width":1.2}, cb);
  const t = mk("text", {x:1766, y:y + 10, "font-size":27, fill:"#262626"}, cb);
  t.textContent = String(p);
  
  
});
</script>
</body></html>
